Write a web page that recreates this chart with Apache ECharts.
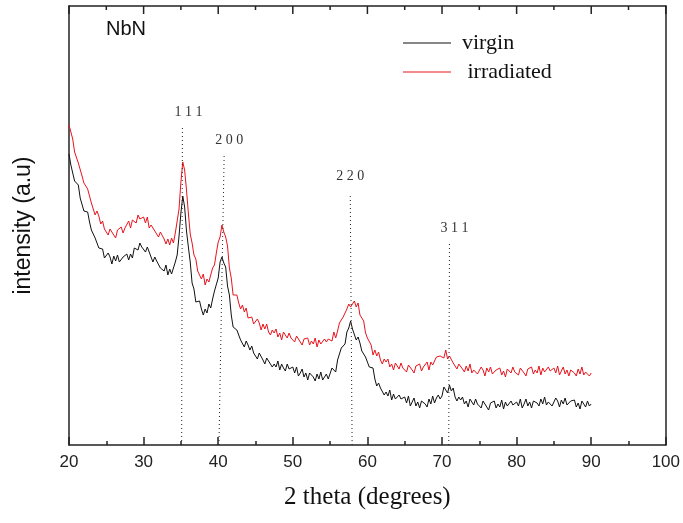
<!DOCTYPE html>
<html>
<head>
<meta charset="utf-8">
<script src="https://cdn.jsdelivr.net/npm/echarts@6/dist/echarts.min.js"></script>
<style>html,body{margin:0;padding:0;background:#fff;}#chart{width:683px;height:523px;}</style>
</head>
<body>
<div id="chart"></div>
<script>
// Sampling grid of the diffractograms (2 theta, degrees)
const thetaStart = 20;
const thetaStep = 0.25;

// Intensity (a.u.), one value per 0.25 degree, 20..90
const virgin = [
291,280,280,264,262,260,247,246,234,236,233,223,215,217,207,209,197,197,196,187,
186,192,188,181,189,184,190,183,181,188,186,191,185,191,187,197,198,195,202,198,
199,193,198,198,188,183,188,184,186,177,179,174,180,170,176,171,171,183,190,209,
232,249,238,214,198,183,162,156,143,145,144,136,130,136,132,141,137,146,154,156,
167,183,188,182,178,159,150,130,118,120,115,115,105,107,98,104,100,95,99,92,
93,86,92,93,85,81,87,84,86,78,81,78,84,75,81,77,74,81,76,78,
78,72,78,69,72,76,68,72,65,72,73,68,64,71,66,73,65,68,71,66,
68,77,76,73,85,86,97,96,101,113,117,124,116,116,105,108,102,94,96,88,
88,78,80,77,66,59,62,57,59,50,53,49,55,45,51,46,44,50,46,47,
48,42,49,39,43,47,39,43,37,44,46,41,38,46,41,49,42,47,50,46,
49,58,57,52,60,54,57,48,44,48,45,48,41,44,38,46,45,40,46,41,
43,37,44,46,38,35,42,40,44,37,41,38,45,36,43,39,37,44,40,42,
43,39,46,37,41,46,39,43,37,44,46,42,39,46,41,48,40,43,45,39,
40,47,44,38,45,41,47,40,38,44,42,45,38,42,36,44,43,38,44,39,
41
];
const irradiated = [
320,320,306,293,293,282,281,269,262,263,256,254,242,241,230,234,229,221,224,216,
216,210,216,217,210,207,215,213,218,212,217,216,224,217,225,223,222,230,226,228,
228,222,228,217,220,222,214,216,208,213,213,206,201,206,200,207,202,212,224,236,
263,283,275,255,232,211,202,190,186,174,173,166,171,160,166,163,164,177,180,192,
203,208,220,213,208,199,177,167,150,152,150,142,136,140,133,137,127,128,128,121,
121,126,122,115,121,116,121,113,110,115,112,116,108,112,105,113,111,107,112,107,
108,103,109,111,103,100,106,104,107,100,104,101,107,98,105,101,99,106,103,106,
108,104,113,107,114,122,120,128,126,136,141,138,136,144,138,142,130,128,124,112,
107,108,100,90,95,89,93,85,81,86,83,86,78,81,75,82,81,76,82,77,
79,73,80,82,75,72,79,77,81,74,78,76,83,75,83,80,79,88,86,89,
91,87,95,86,89,91,82,84,76,81,82,76,73,79,74,81,72,75,77,71,
72,78,75,69,77,73,78,71,69,75,73,77,70,74,68,76,76,72,78,73,
75,70,77,79,72,69,76,74,78,71,75,72,79,70,77,73,71,78,74,76,
77,72,79,70,74,78,71,75,69,75,77,72,69,76,71,78,70,73,75,69,
72
];

// Reflection markers (Miller indices), dotted guide lines
const peakLabels = ['1 1 1', '2 0 0', '2 2 0', '3 1 1'];
const peakThetaBottom = [35.1, 40.1, 57.95, 70.9];
const peakThetaTop = [35.2, 40.8, 57.7, 71.0];
const peakLineTop = [318, 291, 252, 202];

// Axis ticks
const xMin = 20, xMax = 100, xInterval = 10;
const yMin = 0, yMax = 439;

const toPairs = arr => arr.map((v, i) => [thetaStart + i * thetaStep, v]);

const labelShift = [6, 5, 0, 5];
const labelDist = [8, 7, 10, 8];
const markData = peakLabels.map((lab, i) => [
  {coord: [peakThetaBottom[i], 0],
   label: {show: true, position: 'end', formatter: lab, distance: labelDist[i],
           padding: [0, 0, 0, labelShift[i] * 2],
           fontFamily: 'Liberation Serif', fontSize: 14, color: '#333'}},
  {coord: [peakThetaTop[i], peakLineTop[i]]}
]);

const tickLen = 8, minorLen = 4;
const chart = echarts.init(document.getElementById('chart'), null, {renderer: 'canvas'});
const axisLineStyle = {color: '#222', width: 1.5};
const tickStyle = {color: '#222', width: 1.5};
chart.setOption({
  animation: false,
  backgroundColor: '#fff',
  title: {
    text: 'NbN', left: 101, top: 14,
    textStyle: {fontFamily: 'Liberation Sans', fontSize: 20, fontWeight: 'normal', color: '#111'}
  },
  legend: {
    orient: 'vertical', left: 398, top: 27,
    icon: 'rect', itemWidth: 48, itemHeight: 1.2, itemGap: 7,
    formatter: n => n === 'irradiated' ? ' irradiated' : n,
    textStyle: {fontFamily: 'Liberation Serif', fontSize: 22, color: '#111', padding: [0, 0, 0, 6]},
    data: ['virgin', 'irradiated']
  },
  grid: {left: 69, right: 17, top: 6, bottom: 78},
  xAxis: [{
    type: 'value', min: xMin, max: xMax, interval: xInterval, position: 'bottom',
    name: '2 theta (degrees)', nameLocation: 'middle', nameGap: 40,
    nameTextStyle: {fontFamily: 'Liberation Serif', fontSize: 25, color: '#111'},
    axisLine: {show: true, onZero: false, lineStyle: axisLineStyle},
    axisTick: {show: true, inside: true, length: tickLen, lineStyle: tickStyle},
    minorTick: {show: true, splitNumber: 2, length: minorLen, lineStyle: tickStyle},
    axisLabel: {fontFamily: 'Liberation Sans', fontSize: 17, color: '#222', margin: 9},
    splitLine: {show: false}
  }, {
    type: 'value', min: xMin, max: xMax, interval: xInterval, position: 'top',
    axisLine: {show: true, onZero: false, lineStyle: axisLineStyle},
    axisTick: {show: false}, minorTick: {show: false},
    axisLabel: {show: false},
    splitLine: {show: false}
  }],
  yAxis: [{
    type: 'value', min: yMin, max: yMax, position: 'left',
    name: 'intensity (a.u)', nameLocation: 'middle', nameGap: 34,
    nameTextStyle: {fontFamily: 'Liberation Sans', fontSize: 23, color: '#111'},
    axisLine: {show: true, onZero: false, lineStyle: axisLineStyle},
    axisTick: {show: false}, axisLabel: {show: false}, splitLine: {show: false}
  }, {
    type: 'value', min: yMin, max: yMax, position: 'right',
    axisLine: {show: true, onZero: false, lineStyle: axisLineStyle},
    axisTick: {show: false}, axisLabel: {show: false}, splitLine: {show: false}
  }],
  series: [{
    name: 'virgin', type: 'line', data: toPairs(virgin),
    xAxisIndex: 0, yAxisIndex: 0,
    symbol: 'none', color: '#111', lineStyle: {width: 1, color: '#111'},
    z: 3,
    markLine: {
      silent: true, symbol: ['none', 'none'], animation: false,
      lineStyle: {type: [1, 3], color: '#222', width: 1},
      data: markData
    }
  }, {
    name: 'irradiated', type: 'line', data: toPairs(irradiated),
    xAxisIndex: 0, yAxisIndex: 0,
    symbol: 'none', color: '#e8141c', lineStyle: {width: 1, color: '#e8141c'},
    z: 2
  }]
});

// Mirrored tick row along the top frame edge, positioned through the x axis scale
const topY = chart.convertToPixel({yAxisIndex: 0}, yMax);
const topTicks = [];
for (let v = xMin; v <= xMax + 1e-9; v += xInterval / 2) {
  const isMajor = Math.abs((v - xMin) % xInterval) < 1e-9;
  const px = chart.convertToPixel({xAxisIndex: 0}, v);
  topTicks.push({
    type: 'line', silent: true, z: 100,
    shape: {x1: px, y1: topY, x2: px, y2: topY + (isMajor ? tickLen : minorLen)},
    style: {stroke: '#222', lineWidth: 1.5}
  });
}
chart.setOption({graphic: topTicks});
</script>
</body>
</html>
